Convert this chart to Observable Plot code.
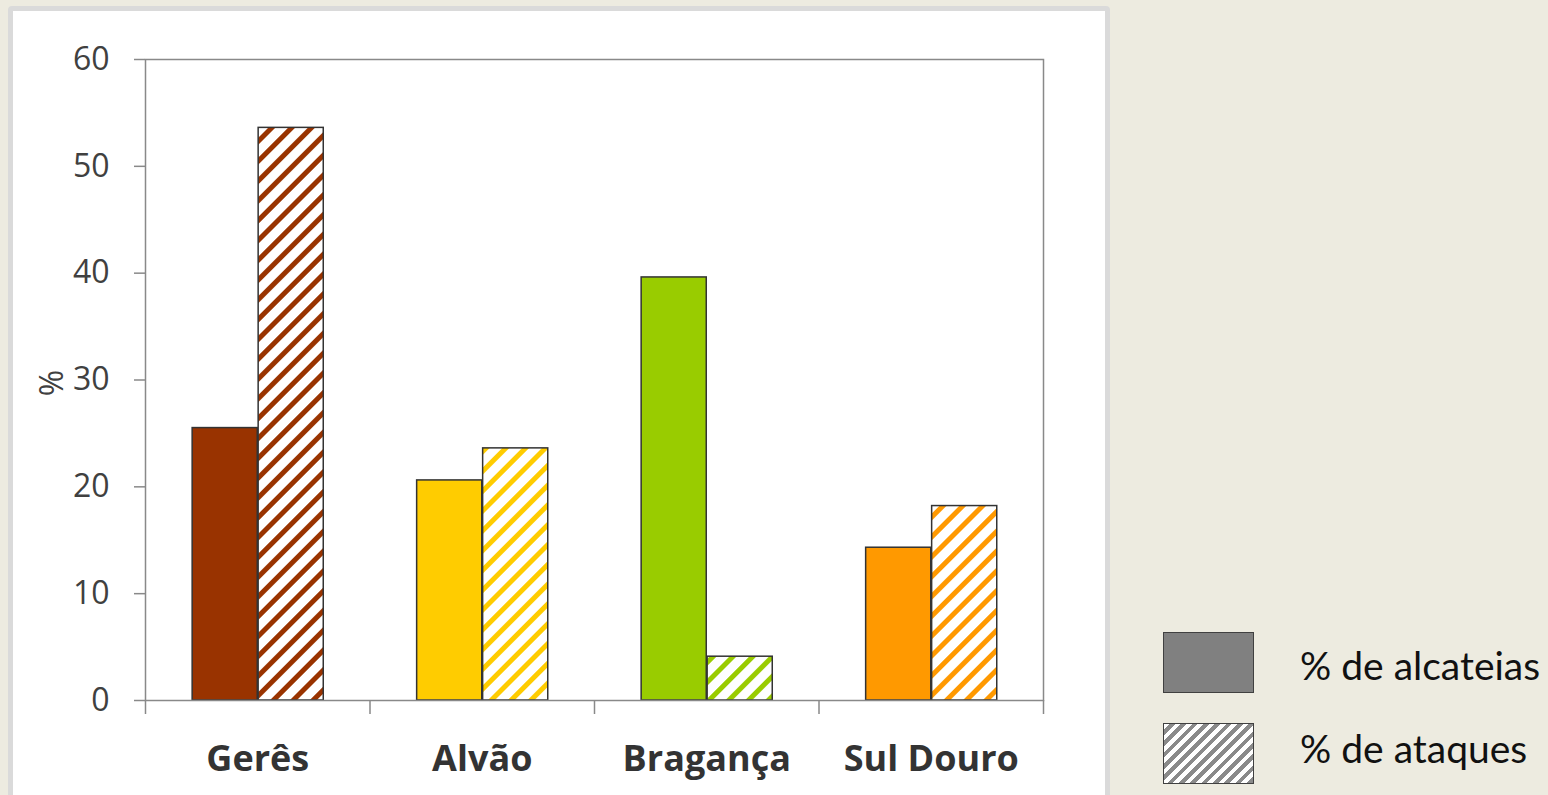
<!DOCTYPE html>
<html>
<head>
<meta charset="utf-8">
<script src="https://cdn.jsdelivr.net/npm/d3@7"></script>
<script src="https://cdn.jsdelivr.net/npm/@observablehq/plot@0.6"></script>
<style>
  html, body { margin: 0; padding: 0; width: 1548px; height: 795px; overflow: hidden; background: #EDEBE0; }
  #panel { position: absolute; left: 8px; top: 6px; width: 1092px; height: 820px; background: #fff; border: 5px solid #DADADA; border-radius: 4px; }
  #chart { position: absolute; left: 0; top: 0; }
  .leg-box { position: absolute; left: 1163px; width: 89px; height: 59px; border: 1.5px solid #404040; }
  .leg-text { position: absolute; left: 1300px; font-family: Lato, "Open Sans", sans-serif; font-size: 39px; color: #111; line-height: 1; white-space: nowrap; }
</style>
</head>
<body>
<div id="panel"></div>
<div id="chart"></div>
<div class="leg-box" style="top:632px; background:#808080;"></div>
<div class="leg-box" style="top:723px; background: repeating-linear-gradient(135deg, #fff 0 4px, #8a8a8a 4px 8px);"></div>
<div class="leg-text" id="leg1" style="top:646px;">% de alcateias</div>
<div class="leg-text" id="leg2" style="top:729px;">% de ataques</div>
<script>
const regions = ["Gerês", "Alvão", "Bragança", "Sul Douro"];
const alcateias = [25.5, 20.6, 39.6, 14.3];
const ataques = [53.6, 23.6, 4.1, 18.2];
const colors = ["#993300", "#FFCC00", "#99CC00", "#FF9900"];
const yTicks = [0, 10, 20, 30, 40, 50, 60];
const yLabel = "%";

const barW = 0.29;
const data = regions.map((r, i) => ({i, region: r, alc: alcateias[i], ata: ataques[i], color: colors[i], hatch: `url(#hatch-${i})`}));

const chart = Plot.plot({
  width: 1548,
  height: 795,
  marginLeft: 145,
  marginRight: 505,
  marginTop: 59,
  marginBottom: 95,
  style: {background: "transparent", fontFamily: "'Open Sans', sans-serif", color: "#404040"},
  x: {domain: [0, regions.length]},
  y: {domain: [0, 60]},
  color: {type: "identity"},
  marks: [
    Plot.rectY(data, {x1: d => d.i + 0.5 - barW, x2: d => d.i + 0.5, y: "alc", fill: "color", stroke: "#333", strokeWidth: 1.5}),
    Plot.rectY(data, {x1: d => d.i + 0.5 + 0.004, x2: d => d.i + 0.5 + 0.004 + barW, y: "ata", fill: "hatch", stroke: "#333", strokeWidth: 1.5}),
    Plot.frame({stroke: "#898989", strokeWidth: 1.5}),
    Plot.axisY({ticks: yTicks, tickSize: 11, tickPadding: 25, fontSize: 32, label: null, stroke: "#898989", strokeWidth: 1.5}),
    Plot.axisX({ticks: d3.range(regions.length + 1), tickSize: 14, tickFormat: () => "", label: null, stroke: "#898989", strokeWidth: 1.5}),
    Plot.axisX({ticks: regions.map((r, i) => i + 0.5), tickSize: 0, tickPadding: 45, tickFormat: v => regions[Math.floor(v)], label: null, fontSize: 36, fontWeight: "bold", fill: "#333"}),
    Plot.text([yLabel], {frameAnchor: "left", dx: -93, dy: 3, rotate: -90, textAnchor: "middle", fontSize: 32, fill: "#404040"})
  ]
});

// hatch patterns
const ns = "http://www.w3.org/2000/svg";
const defs = document.createElementNS(ns, "defs");
colors.forEach((c, i) => {
  const p = document.createElementNS(ns, "pattern");
  p.setAttribute("id", `hatch-${i}`);
  p.setAttribute("patternUnits", "userSpaceOnUse");
  p.setAttribute("width", "14");
  p.setAttribute("height", "14");
  p.setAttribute("patternTransform", "rotate(45)");
  const bg = document.createElementNS(ns, "rect");
  bg.setAttribute("width", "14"); bg.setAttribute("height", "14"); bg.setAttribute("fill", "#fff");
  const s = document.createElementNS(ns, "rect");
  s.setAttribute("width", "5"); s.setAttribute("height", "14"); s.setAttribute("fill", c);
  p.appendChild(bg); p.appendChild(s);
  defs.appendChild(p);
});
chart.insertBefore(defs, chart.firstChild);
document.getElementById("chart").appendChild(chart);
</script>
</body>
</html>
